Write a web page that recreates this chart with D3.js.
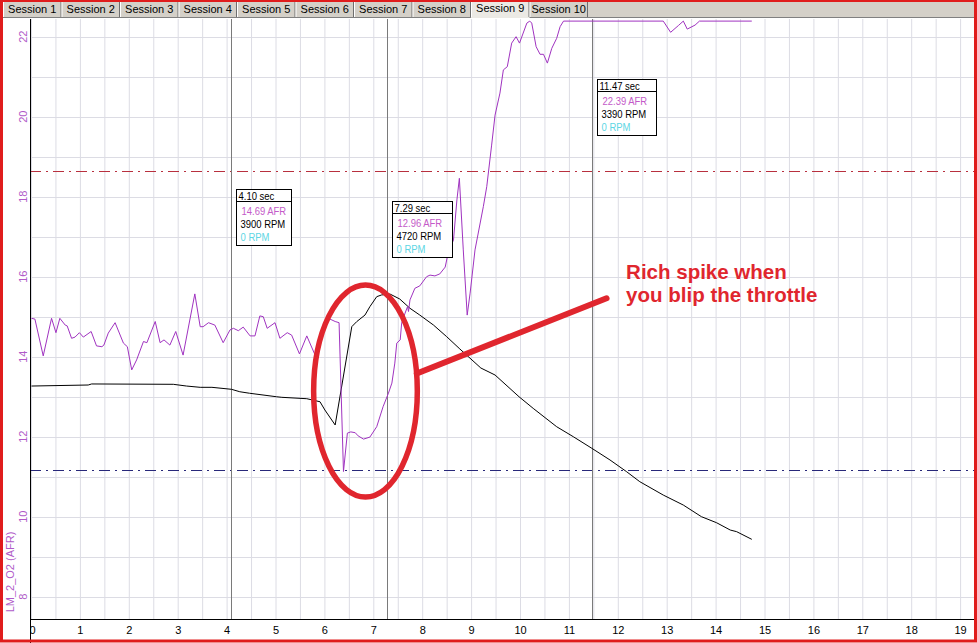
<!DOCTYPE html>
<html><head><meta charset="utf-8">
<script src="https://cdn.jsdelivr.net/npm/d3@7"></script>
<style>body{margin:0;background:#fff;}svg{display:block;font-family:"Liberation Sans",Arial,sans-serif;}</style>
</head><body><svg id="c" width="977" height="643"></svg>
<script>
// ---------- data ----------
const tabNames = ["Session 1","Session 2","Session 3","Session 4","Session 5","Session 6","Session 7","Session 8","Session 9","Session 10"];
const selectedTab = "Session 9";
const xTicks = [0,1,2,3,4,5,6,7,8,9,10,11,12,13,14,15,16,17,18,19];
const yTicks = [8,10,12,14,16,18,20,22];
const yAxisLabel = "LM_2_O2 (AFR)";
const afrHigh = 18.64, afrLow = 11.17;

const afrTime = [0.01,0.08,0.25,0.42,0.51,0.59,0.70,0.74,0.83,0.90,0.99,1.07,1.23,1.34,1.45,1.49,1.58,1.72,1.89,1.97,2.06,2.16,2.30,2.37,2.54,2.64,2.72,2.84,2.96,3.11,3.35,3.46,3.52,3.63,3.76,3.93,4.07,4.14,4.24,4.34,4.48,4.58,4.68,4.75,4.83,4.99,5.09,5.24,5.33,5.49,5.64,5.81,5.98,6.08,6.22,6.30,6.39,6.47,6.54,6.63,6.69,6.80,6.93,7.07,7.20,7.31,7.38,7.44,7.48,7.55,7.58,7.65,7.70,7.72,7.75,7.85,7.95,8.09,8.16,8.26,8.36,8.47,8.53,8.64,8.71,8.76,8.84,8.92,8.98,9.08,9.25,9.32,9.42,9.49,9.59,9.66,9.74,9.83,9.92,9.99,10.14,10.20,10.24,10.33,10.41,10.48,10.56,10.65,10.75,10.82,10.89,12.93,13.08,13.24,13.34,13.42,13.58,13.67,14.74];
const afrValue = [14.96,14.94,14.02,14.96,14.60,14.96,14.79,14.77,14.46,14.49,14.60,14.49,14.63,14.27,14.25,14.29,14.59,14.85,14.34,14.25,13.67,13.92,14.38,14.35,14.88,14.35,14.42,14.29,14.63,14.04,15.57,14.75,14.75,14.85,14.79,14.35,14.67,14.71,14.65,14.74,14.52,14.52,15.02,15.00,14.71,14.85,14.46,14.60,14.54,14.07,14.52,14.04,14.59,14.96,14.88,14.85,11.13,12.09,12.12,12.10,12.02,11.94,11.99,12.25,12.75,13.09,13.34,13.84,14.34,14.42,14.84,15.09,15.25,15.13,15.42,15.71,15.77,16.00,16.04,16.02,16.07,16.24,16.59,16.92,17.92,18.46,16.67,15.04,15.59,16.67,17.75,18.25,19.29,20.04,20.59,21.17,21.25,21.84,22.00,21.84,22.34,22.39,22.34,21.75,21.56,21.56,21.34,21.71,21.96,22.25,22.39,22.39,22.11,22.28,22.39,22.19,22.29,22.39,22.39];

const rpmTime = [0.01,1.17,1.24,2.91,3.18,3.46,3.70,4.10,4.27,4.47,5.02,5.13,5.64,5.91,6.01,6.22,6.56,6.66,6.83,6.93,7.07,7.17,7.34,7.54,7.75,7.95,8.23,8.50,8.77,9.20,9.49,9.98,10.27,10.75,11.09,11.47,11.84,12.18,12.45,12.93,13.34,13.71,14.02,14.30,14.43,14.74];
const rpmValue = [3928,3937,3946,3943,3928,3917,3917,3900,3879,3866,3836,3831,3819,3793,3722,3593,4439,4482,4539,4611,4697,4712,4720,4677,4597,4539,4453,4353,4247,4083,4023,3836,3736,3578,3492,3392,3292,3191,3105,2990,2904,2804,2752,2689,2675,2609];

const cursorTime = [4.10, 7.29, 11.47];
const cursorAFR = ["14.69","12.96","22.39"];
const cursorRPM = ["3900","4720","3390"];
const cursorRPM2 = ["0","0","0"];

const noteLines = ["Rich spike when","you blip the throttle"];

// ---------- layout ----------
const W = 977, H = 643;
const plotL = 30, plotR = 974, plotT = 19, plotB = 619;
const svg = d3.select("#c");
const x = d3.scaleLinear().domain([0,19]).range([31, 960.1]);
const y = d3.scaleLinear().domain([8,22]).range([596.7, 36.7]);
const yr = d3.scaleLinear().domain([3900,4720]).range([389.3, 294]);

const purple = "#a033c0", tickPurple = "#b05ac8";

svg.append("rect").attr("width",W).attr("height",H).attr("fill","#fff");

svg.append("defs").append("clipPath").attr("id","pc")
  .append("rect").attr("x",plotL).attr("y",plotT).attr("width",plotR-plotL).attr("height",plotB-plotT);
const g = svg.append("g").attr("clip-path","url(#pc)");

// grid
const vgrid = d3.range(0, 39).map(i => i*0.5);
g.selectAll(".vg").data(vgrid).join("line")
  .attr("x1",d=>x(d)+0.5).attr("x2",d=>x(d)+0.5).attr("y1",plotT).attr("y2",plotB)
  .attr("stroke","#dcdce4").attr("stroke-width",1);
const hgrid = d3.range(8, 23);
g.selectAll(".hg").data(hgrid).join("line")
  .attr("y1",d=>Math.round(y(d))+0.5).attr("y2",d=>Math.round(y(d))+0.5).attr("x1",plotL).attr("x2",plotR)
  .attr("stroke","#dcdce4").attr("stroke-width",1);

// reference dash-dot lines
g.append("line").attr("x1",plotL).attr("x2",plotR).attr("y1",Math.round(y(afrHigh))+0.5).attr("y2",Math.round(y(afrHigh))+0.5)
  .attr("stroke","#b8303e").attr("stroke-width",1).attr("stroke-dasharray","11,5,2,5");
g.append("line").attr("x1",plotL).attr("x2",plotR).attr("y1",Math.round(y(afrLow))+0.5).attr("y2",Math.round(y(afrLow))+0.5)
  .attr("stroke","#28287a").attr("stroke-width",1).attr("stroke-dasharray","11,5,2,5");

// cursor lines
g.selectAll(".cur").data(cursorTime).join("line")
  .attr("x1",d=>Math.round(x(d))+0.5).attr("x2",d=>Math.round(x(d))+0.5).attr("y1",plotT).attr("y2",plotB)
  .attr("stroke","#7a7a7a").attr("stroke-width",1);

// series
const afrPts = afrTime.map((t,i)=>[x(t), y(afrValue[i])]);
const rpmPts = rpmTime.map((t,i)=>[x(t), yr(rpmValue[i])]);
g.append("path").attr("d", d3.line()(rpmPts)).attr("fill","none").attr("stroke","#000").attr("stroke-width",1);
g.append("path").attr("d", d3.line()(afrPts)).attr("fill","none").attr("stroke",purple).attr("stroke-width",1);

// info boxes
const boxTop = [189, 201, 79];
const boxW = [55, 60, 59];
function squeeze(sel, k){
  sel.each(function(){ const L = this.getComputedTextLength(); d3.select(this).attr("textLength", L*k).attr("lengthAdjust","spacingAndGlyphs"); });
}
cursorTime.forEach((t,i)=>{
  const bx = Math.round(x(t)) + 5.5, by = boxTop[i] + 0.5, bw = boxW[i], bh = 56;
  const b = svg.append("g");
  b.append("rect").attr("x",bx).attr("y",by).attr("width",bw).attr("height",bh).attr("fill","#fff").attr("stroke","#000");
  b.append("line").attr("x1",bx).attr("x2",bx+bw).attr("y1",by+12).attr("y2",by+12).attr("stroke","#000");
  const fs = 11;
  b.append("text").attr("x",bx+2).attr("y",by+10).attr("font-size",fs).attr("fill","#000").text(t.toFixed(2)+" sec");
  b.append("text").attr("x",bx+5).attr("y",by+25).attr("font-size",fs).attr("fill","#c45ac8").text(cursorAFR[i]+" AFR");
  b.append("text").attr("x",bx+4).attr("y",by+38).attr("font-size",fs).attr("fill","#000").text(cursorRPM[i]+" RPM");
  b.append("text").attr("x",bx+4).attr("y",by+51).attr("font-size",fs).attr("fill","#5cd6e4").text(cursorRPM2[i]+" RPM");
  squeeze(b.selectAll("text"), 0.86);
});

// axes
svg.append("line").attr("x1",plotL+0.5).attr("x2",plotL+0.5).attr("y1",plotT).attr("y2",plotB+1).attr("stroke","#000");
svg.append("line").attr("x1",plotL).attr("x2",plotR).attr("y1",plotB+0.5).attr("y2",plotB+0.5).attr("stroke","#000");

const xAxisG = svg.append("g").attr("transform",`translate(0,${plotB})`)
  .call(d3.axisBottom(x).tickValues(xTicks).tickFormat(d3.format("d")).tickSize(0).tickPadding(7));
xAxisG.select(".domain").remove();
xAxisG.selectAll("text").attr("font-size",11).attr("font-family","Liberation Sans, Arial, sans-serif").attr("fill","#000");
xAxisG.selectAll(".tick").filter(d=>d===0).select("text").attr("text-anchor","start").attr("dx",-2);
svg.append("rect").attr("x",0).attr("y",plotB+1).attr("width",plotL+0.5).attr("height",20).attr("fill","#fff");
svg.append("line").attr("x1",plotL+0.5).attr("x2",plotL+0.5).attr("y1",plotB).attr("y2",H).attr("stroke","#000");

// y tick labels (rotated)
svg.selectAll(".yt").data(yTicks).join("text")
  .attr("transform",d=>`translate(27,${y(d)}) rotate(-90)`)
  .attr("text-anchor","middle").attr("font-size",11).attr("fill",tickPurple).text(d=>d);
svg.append("text").attr("transform","translate(14,572) rotate(-90)")
  .attr("text-anchor","middle").attr("font-size",11).attr("fill",tickPurple).text(yAxisLabel);

// tabs
svg.append("rect").attr("x",0).attr("y",0).attr("width",W).attr("height",18).attr("fill","#d4d0c8");
svg.append("line").attr("x1",0).attr("x2",W).attr("y1",17.5).attr("y2",17.5).attr("stroke","#808080");
const tabX = d3.scaleBand().domain(tabNames).range([3, 588]);
tabNames.forEach(n=>{
  const sel = n===selectedTab;
  const tx = tabX(n), tw = tabX.bandwidth();
  if (sel) {
    svg.append("rect").attr("x",tx).attr("y",0).attr("width",tw).attr("height",18).attr("fill","#ebe9e4");
  }
  svg.append("line").attr("x1",tx+tw-0.5).attr("x2",tx+tw-0.5).attr("y1",1).attr("y2",17).attr("stroke","#6e6e6e");
  svg.append("line").attr("x1",tx+0.5).attr("x2",tx+0.5).attr("y1",1).attr("y2",17).attr("stroke","#ffffff");
  svg.append("text").attr("x",tx+tw/2).attr("y",sel?11.5:13).attr("text-anchor","middle")
    .attr("font-size",11).attr("fill","#000").text(n);
});

// annotation
const red = "#e0262e";
svg.append("ellipse").attr("cx",x(6.84)).attr("cy",y(13.14)).attr("rx",x(1.06)-x(0)).attr("ry",y(0)-y(2.65))
  .attr("fill","none").attr("stroke",red).attr("stroke-width",5.5);
svg.append("line").attr("x1",x(7.89)).attr("y1",y(13.58)).attr("x2",x(11.77)).attr("y2",y(15.46))
  .attr("stroke",red).attr("stroke-width",6).attr("stroke-linecap","round");
svg.selectAll(".note").data(noteLines).join("text")
  .attr("x",x(12.17)).attr("y",(d,i)=> i===0 ? 279 : 302)
  .attr("font-size",20.5).attr("font-weight","bold").attr("fill",red).text(d=>d);

// red frame
svg.append("rect").attr("x",1.5).attr("y",0.5).attr("width",W-3).attr("height",H-2.5)
  .attr("fill","none").attr("stroke","#e01c1c").attr("stroke-width",3);
</script></body></html>
